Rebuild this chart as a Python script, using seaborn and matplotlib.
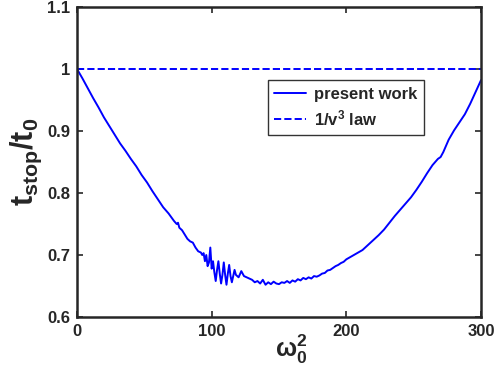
import matplotlib
matplotlib.use("Agg")
import matplotlib.pyplot as plt
import numpy as np
import pandas as pd
import seaborn as sns

# omega_0^2 values and t_stop/t_0
omega2 = [0, 4, 8, 12, 16, 20, 24, 28, 32, 36, 40, 44, 48, 52, 56, 60, 64, 68, 72,
          74, 75, 76, 78, 80, 82, 84, 86, 88, 90, 92, 93, 94, 95, 96, 97, 98, 99,
          100, 101, 102, 103, 104, 105, 106, 107, 108, 109, 110, 111, 112, 113,
          114, 115, 116, 117, 118, 120, 122, 124, 126, 128, 130, 132, 134, 136, 138,
          140, 142, 144, 146, 148, 150, 152, 154, 156, 158, 160, 162, 164, 166,
          168, 170, 172, 174, 176, 178, 180, 182, 184, 186, 188, 190, 192, 194,
          196, 198, 200, 204, 208, 212, 216, 220, 224, 228, 232, 236, 240, 244,
          248, 252, 256, 260, 264, 268, 270, 272, 276, 280, 284, 288, 292, 296, 300]
t_ratio = [1.000, 0.985, 0.969, 0.953, 0.938, 0.922, 0.908, 0.894, 0.880, 0.868,
           0.855, 0.843, 0.829, 0.817, 0.803, 0.790, 0.777, 0.767, 0.755,
           0.750, 0.752, 0.744, 0.740, 0.733, 0.726, 0.722, 0.720, 0.712, 0.706,
           0.704, 0.700, 0.703, 0.690, 0.700, 0.682, 0.688, 0.712,
           0.678, 0.690, 0.672, 0.658, 0.676, 0.690, 0.670, 0.654, 0.668, 0.688,
           0.668, 0.652, 0.670, 0.684, 0.666, 0.656, 0.666, 0.676, 0.668, 0.664,
           0.674, 0.666, 0.664, 0.662, 0.660, 0.656, 0.658, 0.654, 0.660,
           0.652, 0.656, 0.653, 0.657, 0.654, 0.653, 0.656, 0.655, 0.658, 0.655,
           0.659, 0.657, 0.661, 0.659, 0.663, 0.661, 0.664, 0.662, 0.666, 0.665,
           0.667, 0.670, 0.671, 0.675, 0.676, 0.679, 0.682, 0.684, 0.687, 0.689,
           0.693, 0.698, 0.703, 0.708, 0.716, 0.724, 0.732, 0.741, 0.752, 0.763,
           0.773, 0.783, 0.793, 0.805, 0.818, 0.832, 0.845, 0.855, 0.858, 0.866,
           0.886, 0.901, 0.914, 0.927, 0.944, 0.963, 0.982]
law_x = [0, 300]
law_y = [1, 1]

sns.set_style("ticks")
plt.rcParams['font.family'] = ['Liberation Sans', 'DejaVu Sans']
plt.rcParams['font.weight'] = 'bold'
plt.rcParams['mathtext.fontset'] = 'custom'
plt.rcParams['mathtext.rm'] = 'Liberation Sans:bold'
plt.rcParams['mathtext.it'] = 'Liberation Sans:bold'
plt.rcParams['mathtext.bf'] = 'Liberation Sans:bold'
plt.rcParams['mathtext.default'] = 'rm'

df = pd.DataFrame({'w': omega2, 't': t_ratio})

fig, ax = plt.subplots(figsize=(4.95, 3.76), dpi=100)
fig.subplots_adjust(left=77/495, right=481/495, top=1-7/376, bottom=1-317/376)

sns.lineplot(data=df, x='w', y='t', color='#0000ff', lw=1.4, ax=ax, label='present work')
sns.lineplot(x=law_x, y=law_y, color='#0000ff', lw=1.4, ax=ax,
             linestyle='--', dashes=(5, 3), label='1/v$^3$ law')

ax.set_xlim(0, 300)
ax.set_ylim(0.6, 1.1)
ax.set_xticks([0, 100, 200, 300])
ax.set_yticks([0.6, 0.7, 0.8, 0.9, 1.0, 1.1])
ax.set_yticklabels(['0.6', '0.7', '0.8', '0.9', '1', '1.1'])
ax.tick_params(direction='in', top=True, right=True, length=4, width=1.2,
               labelsize=12, pad=5)
for lab in ax.get_xticklabels() + ax.get_yticklabels():
    lab.set_fontweight('bold')
for s in ax.spines.values():
    s.set_linewidth(1.8)

ax.set_xlabel(r'$\omega_0^2$', fontsize=18)
ax.xaxis.set_label_coords(0.53, -0.05)
ax.xaxis.label.set_va('top')
ax.set_ylabel(r'$t_{stop}/t_0$', fontsize=22, labelpad=2)

leg = ax.legend(loc='upper left', bbox_to_anchor=(0.472, 0.765), fontsize=12,
                frameon=True, fancybox=False, edgecolor='black', handlelength=1.9,
                handletextpad=0.5, borderpad=0.4, labelspacing=0.4,
                borderaxespad=0)
leg.get_frame().set_linewidth(1.0)
for t in leg.get_texts():
    t.set_fontweight('bold')

fig.savefig('out.png', dpi=100)
